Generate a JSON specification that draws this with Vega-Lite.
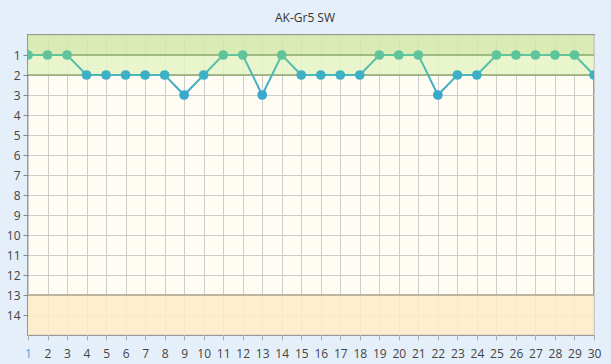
{
  "$schema": "https://vega.github.io/schema/vega-lite/v6.json",
  "width": 566,
  "height": 300,
  "autosize": {"type": "none"},
  "padding": {"left": 28, "top": 35, "right": 17, "bottom": 29},
  "background": "#e5eff9",
  "title": {"text": "AK-Gr5 SW", "fontSize": 12, "font": "Open Sans", "fontWeight": "normal", "color": "#333333", "offset": 10, "dx": -6},
  "config": {
    "view": {"stroke": "#999999", "strokeWidth": 2, "fill": "#fffcf3"},
    "axis": {"labelFont": "Open Sans", "labelFontSize": 12, "labelColor": "#444444", "gridColor": "#cccccc", "gridWidth": 1, "domain": false, "tickColor": "#aaaaaa", "tickSize": 5}
  },
  "datasets": {
    "series": [
      {"day": 1, "grade": 1}, {"day": 2, "grade": 1}, {"day": 3, "grade": 1},
      {"day": 4, "grade": 2}, {"day": 5, "grade": 2}, {"day": 6, "grade": 2},
      {"day": 7, "grade": 2}, {"day": 8, "grade": 2}, {"day": 9, "grade": 3},
      {"day": 10, "grade": 2}, {"day": 11, "grade": 1}, {"day": 12, "grade": 1},
      {"day": 13, "grade": 3}, {"day": 14, "grade": 1}, {"day": 15, "grade": 2},
      {"day": 16, "grade": 2}, {"day": 17, "grade": 2}, {"day": 18, "grade": 2},
      {"day": 19, "grade": 1}, {"day": 20, "grade": 1}, {"day": 21, "grade": 1},
      {"day": 22, "grade": 3}, {"day": 23, "grade": 2}, {"day": 24, "grade": 2},
      {"day": 25, "grade": 1}, {"day": 26, "grade": 1}, {"day": 27, "grade": 1},
      {"day": 28, "grade": 1}, {"day": 29, "grade": 1}, {"day": 30, "grade": 2}
    ],
    "bands": [
      {"from": 0, "to": 1, "fill": "#d4e8aa"},
      {"from": 1, "to": 2, "fill": "#e5f5c5"},
      {"from": 13, "to": 15, "fill": "#feebc8"}
    ],
    "edges": [
      {"v": 1, "c": "#8ea872"},
      {"v": 2, "c": "#8ea872"},
      {"v": 13, "c": "#a8a088"}
    ]
  },
  "layer": [
    {
      "data": {"name": "bands"},
      "mark": {"type": "rect"},
      "encoding": {
        "y": {"field": "from", "type": "quantitative", "scale": {"domain": [0, 15], "reverse": true, "nice": false, "zero": false}, "axis": {"values": [1,2,3,4,5,6,7,8,9,10,11,12,13,14], "tickCount": 20, "title": null, "grid": true, "tickColor": "#888888", "labelPadding": 3, "labelOverlap": false, "labelBound": false}},
        "y2": {"field": "to"},
        "fill": {"field": "fill", "type": "nominal", "scale": null},
        "fillOpacity": {"value": 0.85}
      }
    },
    {
      "data": {"name": "edges"},
      "mark": {"type": "rule", "strokeWidth": 1.5},
      "encoding": {
        "y": {"field": "v", "type": "quantitative"},
        "color": {"field": "c", "type": "nominal", "scale": null}
      }
    },
    {
      "data": {"name": "series"},
      "mark": {"type": "line", "strokeWidth": 2, "clip": true,
        "stroke": {"gradient": "linear", "x1": 0, "y1": 0, "x2": 0, "y2": 1,
          "stops": [{"offset": 0, "color": "#62c59a"}, {"offset": 0.5, "color": "#4ab8b8"}, {"offset": 1, "color": "#3aa7cc"}]}},
      "encoding": {
        "x": {"field": "day", "type": "quantitative", "scale": {"domain": [1, 30], "nice": false, "zero": false},
          "axis": {"values": [1,2,3,4,5,6,7,8,9,10,11,12,13,14,15,16,17,18,19,20,21,22,23,24,25,26,27,28,29,30], "tickCount": 40, "title": null, "grid": true, "labelPadding": 8, "labelFlush": false, "labelOverlap": false, "labelBound": false,
            "labelColor": {"condition": {"test": "datum.value == 1", "value": "#4a9ede"}, "value": "#444444"}}},
        "y": {"field": "grade", "type": "quantitative"}
      }
    },
    {
      "data": {"name": "series"},
      "mark": {"type": "circle", "size": 95, "opacity": 1, "clip": true},
      "encoding": {
        "x": {"field": "day", "type": "quantitative"},
        "y": {"field": "grade", "type": "quantitative"},
        "color": {"field": "grade", "type": "ordinal", "scale": {"domain": [1, 2, 3], "range": ["#5fc49b", "#3eb0c6", "#3aa8cc"]}, "legend": null}
      }
    }
  ]
}
